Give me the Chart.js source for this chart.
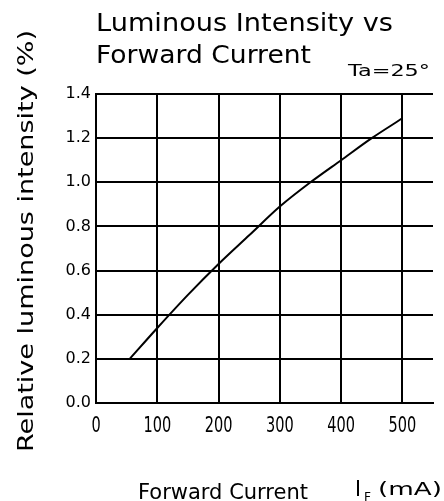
<!DOCTYPE html>
<html>
<head>
<meta charset="utf-8">
<script src="https://cdn.jsdelivr.net/npm/chart.js@4.4.0/dist/chart.umd.min.js"></script>
<style>
  html, body { margin: 0; padding: 0; background: #fff; }
  #wrap { width: 444px; height: 501px; }
</style>
</head>
<body>
<div id="wrap"><canvas id="chart"></canvas></div>
<script>
// values
const currentMA = [55, 100, 150, 200, 250, 300, 350, 400, 450, 500];
const relIntensity = [0.20, 0.34, 0.49, 0.63, 0.76, 0.89, 1.00, 1.10, 1.20, 1.29];
const xTicks = [0, 100, 200, 300, 400, 500];
const yTicks = [0.0, 0.2, 0.4, 0.6, 0.8, 1.0, 1.2, 1.4];

const titleLines = ['Luminous Intensity vs', 'Forward Current'];
const tempNote = 'Ta=25°';
const yTitle = 'Relative luminous intensity (%)';
const xTitle = 'Forward Current';

const FONT = "'DejaVu Sans', sans-serif";

// stretch / squeeze a string to a given width (the original uses a tall narrow plotter font)
function fitText(ctx, text, x, y, w) {
  const m = ctx.measureText(text).width;
  ctx.save();
  ctx.translate(x, y);
  ctx.scale(w / m, 1);
  ctx.fillText(text, 0, 0);
  ctx.restore();
}

const textPlugin = {
  id: 'labels',
  afterDraw(chart) {
    const ctx = chart.ctx;
    ctx.save();
    ctx.fillStyle = '#000';
    ctx.textBaseline = 'alphabetic';
    ctx.textAlign = 'left';

    ctx.font = '25px ' + FONT;
    fitText(ctx, titleLines[0], 96, 31, 297);
    fitText(ctx, titleLines[1], 96, 63, 215);

    ctx.font = '16px ' + FONT;
    fitText(ctx, tempNote, 348, 76, 82);

    // x tick labels, placed by the x scale, drawn narrow like the original
    const xs = chart.scales.x;
    ctx.font = '22px ' + FONT;
    xTicks.forEach(v => {
      const w = ctx.measureText(String(v)).width * 0.66;
      fitText(ctx, String(v), xs.getPixelForValue(v) - w / 2, 432, w);
    });

    // x axis title with subscript
    ctx.font = '21px ' + FONT;
    fitText(ctx, xTitle, 138, 499, 170);
    fitText(ctx, 'I', 355, 496, 6);
    ctx.font = '12px ' + FONT;
    fitText(ctx, 'F', 364, 501, 7);
    ctx.font = '18px ' + FONT;
    fitText(ctx, '(mA)', 378, 495, 64);

    // y axis title, rotated
    ctx.translate(33, 452);
    ctx.rotate(-Math.PI / 2);
    ctx.font = '22px ' + FONT;
    fitText(ctx, yTitle, 0, 0, 422);
    ctx.restore();
  }
};

new Chart(document.getElementById('chart'), {
  type: 'line',
  data: {
    datasets: [{
      data: currentMA.map((x, i) => ({ x: x, y: relIntensity[i] })),
      borderColor: '#000',
      borderWidth: 2,
      pointRadius: 0,
      tension: 0.3,
      fill: false
    }]
  },
  options: {
    responsive: true,
    maintainAspectRatio: false,
    animation: false,
    layout: { padding: { top: 94, right: 11, left: 0, bottom: 0 } },
    plugins: {
      legend: { display: false },
      tooltip: { enabled: false }
    },
    scales: {
      x: {
        type: 'linear',
        min: 0,
        max: 550,
        afterBuildTicks(scale) {
          scale.ticks = xTicks.map(v => ({ value: v }));
        },
        afterFit(scale) { scale.height = 98; },
        grid: { color: '#000', lineWidth: 2, drawTicks: false },
        border: { color: '#000', width: 2 },
        ticks: { display: false }
      },
      y: {
        min: 0,
        max: 1.4,
        afterBuildTicks(scale) {
          scale.ticks = yTicks.map(v => ({ value: v }));
        },
        afterFit(scale) { scale.width = 96; },
        grid: { color: '#000', lineWidth: 2, drawTicks: false },
        border: { color: '#000', width: 2 },
        ticks: {
          color: '#000',
          padding: 5,
          font: { family: FONT, size: 16 },
          callback: v => v.toFixed(1)
        }
      }
    }
  },
  plugins: [textPlugin]
});
</script>
</body>
</html>
